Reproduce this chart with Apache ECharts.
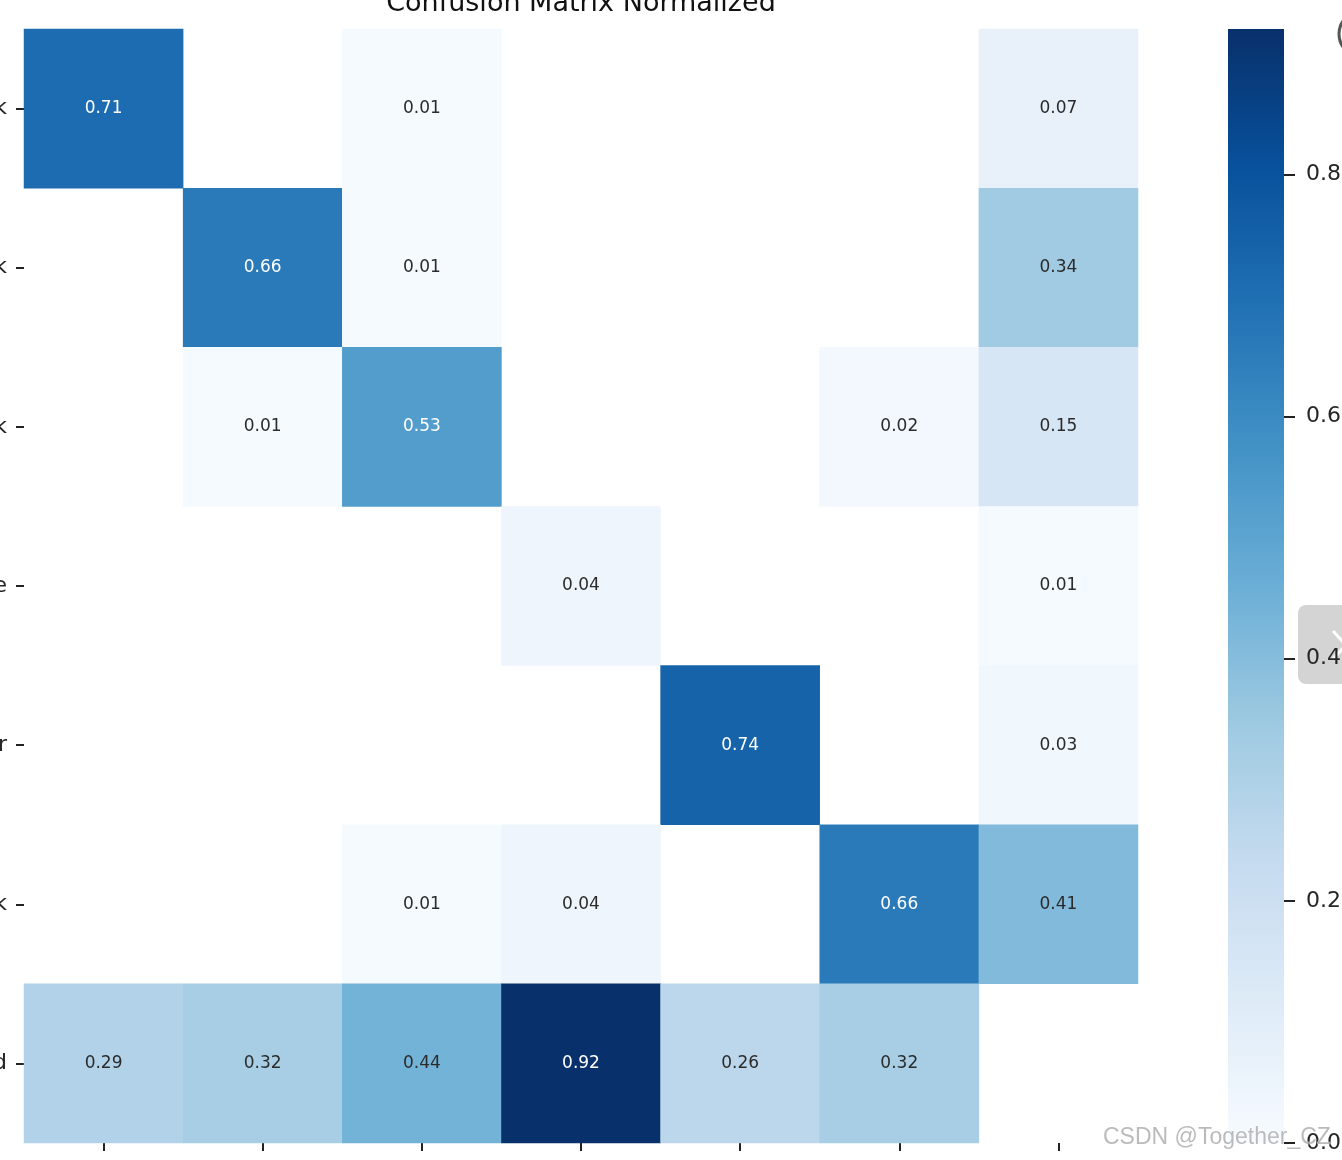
<!DOCTYPE html>
<html>
<head>
<meta charset="utf-8">
<script src="https://cdn.jsdelivr.net/npm/echarts@6/dist/echarts.min.js"></script>
<style>
html,body{margin:0;padding:0;background:#fff;}
#chart{width:1342px;height:1160px;}
</style>
</head>
<body>
<div id="chart"></div>
<script>
// Class labels (only their last letters are visible in the cropped reference)
const classLabels = ['mask', 'neck', 'desk', 'phone', 'water', 'book', 'background'];

// Normalized confusion matrix rows (top to bottom); null = empty (white) cell
const row0 = [0.71, null, 0.01, null, null, null, 0.07];
const row1 = [null, 0.66, 0.01, null, null, null, 0.34];
const row2 = [null, 0.01, 0.53, null, null, 0.02, 0.15];
const row3 = [null, null, null, 0.04, null, null, 0.01];
const row4 = [null, null, null, null, 0.74, null, 0.03];
const row5 = [null, null, 0.01, 0.04, null, 0.66, 0.41];
const row6 = [0.29, 0.32, 0.44, 0.92, 0.26, 0.32, null];
const matrixRows = [row0, row1, row2, row3, row4, row5, row6];

// Colour scale range and colourbar ticks
const colorMin = 0;
const colorMax = 0.92;
const colorbarTicks = [0, 0.2, 0.4, 0.6, 0.8];

// Matplotlib "Blues" colormap stops (low -> high)
const blues = ['#f7fbff', '#deebf7', '#c6dbef', '#9ecae1', '#6baed6', '#4292c6', '#2171b5', '#08519c', '#08306b'];

const FONT = 'DejaVu Sans';

const heatData = [];
matrixRows.forEach((row, yi) => {
  row.forEach((v, xi) => {
    if (v === null) return;
    heatData.push({
      value: [xi, yi, v],
      label: { color: v > 0.5 ? '#ffffff' : '#2b2b2b' }
    });
  });
});

// gradient from top (offset 0, dark) to bottom (offset 1, light)
const n = blues.length;
const gradientStops = blues.map((c, i) => ({ offset: i / (n - 1), color: blues[n - 1 - i] }));

const chart = echarts.init(document.getElementById('chart'));
chart.setOption({
  animation: false,
  backgroundColor: '#ffffff',
  grid: [
    { left: 24, top: 29, width: 1114, height: 1114, containLabel: false, outerBoundsMode: 'none' },
    { left: 1228, top: 29, width: 56, height: 1114, containLabel: false, outerBoundsMode: 'none' }
  ],
  xAxis: [
    {
      type: 'category', gridIndex: 0, data: classLabels, position: 'bottom',
      axisLine: { show: false },
      axisTick: { show: true, alignWithLabel: true, length: 8, lineStyle: { color: '#222', width: 2 } },
      axisLabel: { show: true, rotate: 90, margin: 18, fontFamily: FONT, fontSize: 22, color: '#262626' },
      splitLine: { show: false }
    },
    {
      type: 'category', gridIndex: 1, data: ['scale'],
      show: false
    }
  ],
  yAxis: [
    {
      type: 'category', gridIndex: 0, data: classLabels, inverse: true,
      axisLine: { show: false },
      axisTick: { show: true, alignWithLabel: true, length: 8, lineStyle: { color: '#222', width: 2 } },
      axisLabel: { show: true, margin: 17, fontFamily: FONT, fontSize: 22, color: '#262626' },
      splitLine: { show: false }
    },
    {
      type: 'value', gridIndex: 1, min: colorMin, max: colorMax, position: 'right',
      axisLine: { show: false },
      axisTick: { show: true, length: 11, customValues: colorbarTicks, lineStyle: { color: '#222', width: 2 } },
      axisLabel: { show: true, margin: 22, customValues: colorbarTicks, fontFamily: FONT, fontSize: 22, color: '#262626',
        formatter: v => v.toFixed(1) },
      splitLine: { show: false }
    }
  ],
  visualMap: {
    show: false, type: 'continuous', min: colorMin, max: colorMax, seriesIndex: 0, dimension: 2,
    inRange: { color: blues }
  },
  series: [
    {
      type: 'heatmap', xAxisIndex: 0, yAxisIndex: 0, data: heatData,
      label: { show: true, fontFamily: FONT, fontSize: 17, formatter: p => p.value[2].toFixed(2) },
      itemStyle: { borderWidth: 0 },
      emphasis: { disabled: true }
    },
    {
      type: 'bar', xAxisIndex: 1, yAxisIndex: 1, data: [colorMax], barWidth: '100%',
      itemStyle: { color: { type: 'linear', x: 0, y: 0, x2: 0, y2: 1, colorStops: gradientStops } },
      emphasis: { disabled: true }, silent: true
    }
  ],
  graphic: [
    { type: 'text', z: 100, x: 581, y: 4, style: { text: 'Confusion Matrix Normalized', font: '27px "DejaVu Sans"', fill: '#111', align: 'center', verticalAlign: 'middle' } },
    { type: 'rect', z: -10, shape: { x: 1298, y: 605, width: 70, height: 79, r: 8 }, style: { fill: '#d4d4d4' } },
    { type: 'polyline', z: -9, shape: { points: [[1333, 631], [1346, 645], [1333, 659]] }, style: { stroke: '#ffffff', lineWidth: 3, fill: null } },
    { type: 'circle', z: 100, shape: { cx: 1362, cy: 34, r: 23 }, style: { stroke: '#555', lineWidth: 3, fill: null } },
    { type: 'text', z: 100, x: 1103, y: 1138, style: { text: 'CSDN @Together_CZ', font: '23px "Liberation Sans"', fill: 'rgba(170,170,170,0.8)', stroke: 'rgba(255,255,255,0.6)', lineWidth: 1, align: 'left', verticalAlign: 'middle' } }
  ]
});
</script>
</body>
</html>
